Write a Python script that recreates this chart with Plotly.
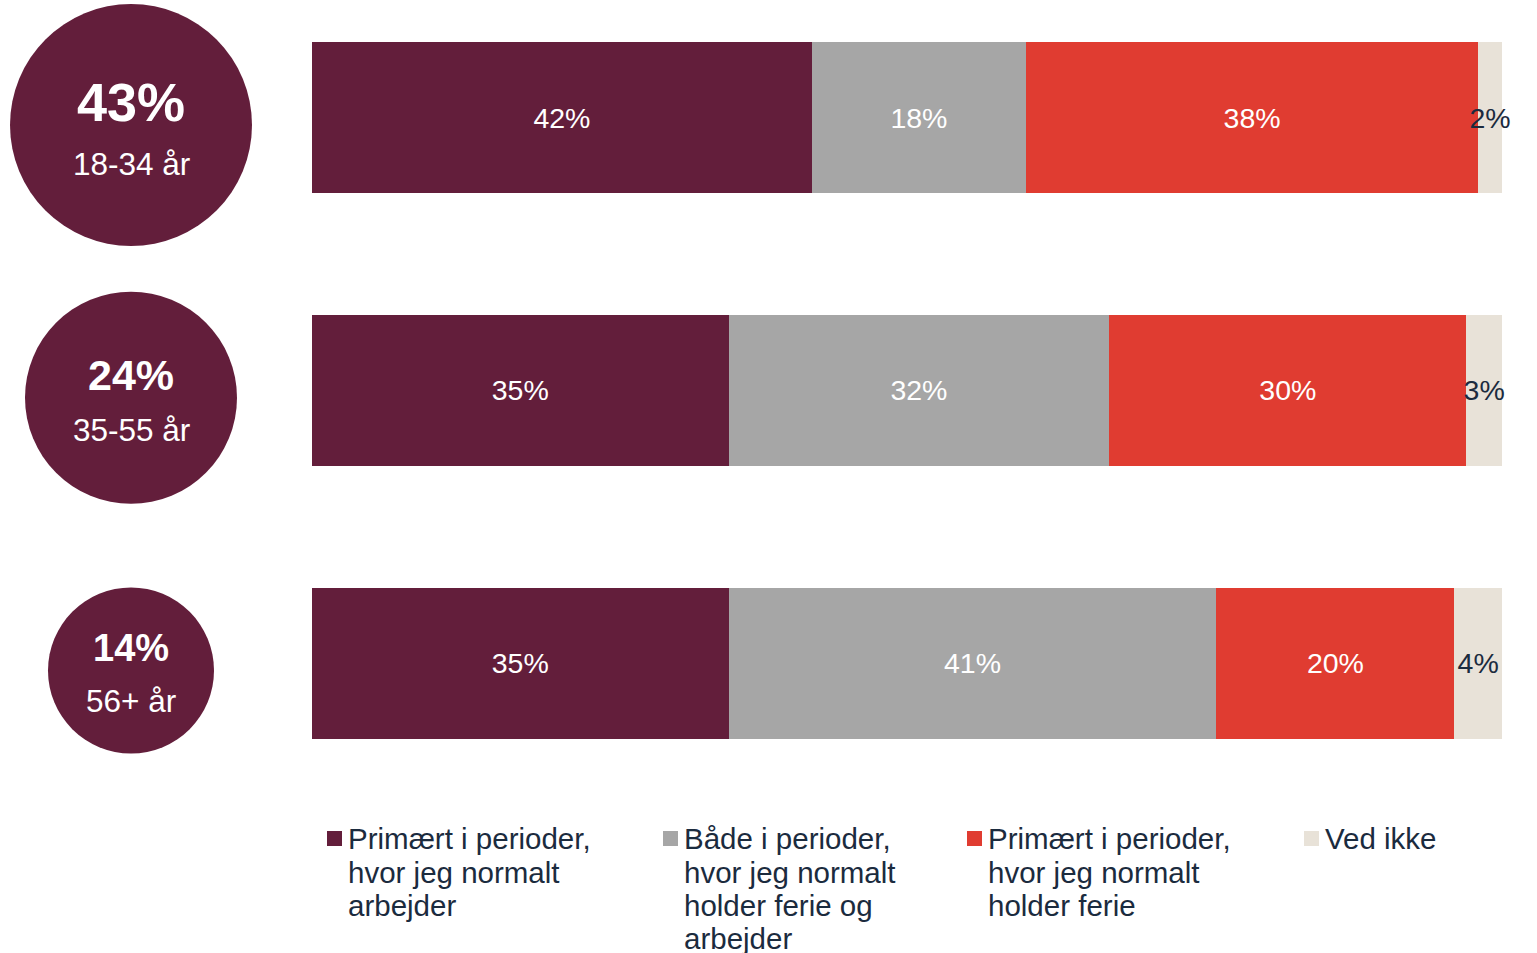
import plotly.graph_objects as go

# ---------------- data ----------------
categories = ["18-34 år", "35-55 år", "56+ år"]
group_share = [43, 24, 14]

series_names = [
    "Primært i perioder, hvor jeg normalt arbejder",
    "Både i perioder, hvor jeg normalt holder ferie og arbejder",
    "Primært i perioder, hvor jeg normalt holder ferie",
    "Ved ikke",
]
primaert_arbejder = [42, 35, 35]
baade = [18, 32, 41]
primaert_ferie = [38, 30, 20]
ved_ikke = [2, 3, 4]
series_values = [primaert_arbejder, baade, primaert_ferie, ved_ikke]

legend_lines = [
    ["Primært i perioder,", "hvor jeg normalt", "arbejder"],
    ["Både i perioder,", "hvor jeg normalt", "holder ferie og", "arbejder"],
    ["Primært i perioder,", "hvor jeg normalt", "holder ferie"],
    ["Ved ikke"],
]

# ---------------- style ----------------
FONT = "Liberation Sans, Arial, sans-serif"
MAROON = "#631E3B"
colors = [MAROON, "#A6A6A6", "#E03C31", "#E8E2D8"]
DARK = "#1B2B3E"
label_colors = ["#FFFFFF", "#FFFFFF", "#FFFFFF", DARK]

W, H = 1537, 953
ML, MR = 0, 35
PW = W - ML - MR
BAR_LEFT = 312
ROW_PX = 272.75
FIRST_ROW = 117.5
CIRCLE_OFFSET = 7.5
CIRCLE_X = 131
circle_diam = [242, 212, 166]
bold_sizes = [54, 43, 38]
bold_shift = [23, 22.5, 22.5]
sub_shift = [-39, -32.5, -30.5]
sub_size = 31.5

sq_left = [327, 663, 967, 1304]
text_left = [346, 682, 986, 1323]
LINE0 = 838.6
LINE_STEP = 33.4
LEG_SIZE = 29.5


def px_x(p):
    return p / PW


def px_y(p):
    return 1 - p / H


y_top = -FIRST_ROW / ROW_PX
y_bot = y_top + H / ROW_PX
y2_top = y_top - CIRCLE_OFFSET / ROW_PX
y2_bot = y2_top + H / ROW_PX

fig = go.Figure()

for name, vals, col, tcol in zip(series_names, series_values, colors, label_colors):
    fig.add_trace(go.Bar(
        y=categories, x=vals, orientation="h", name=name,
        width=151 / ROW_PX,
        marker=dict(color=col, line=dict(width=0)),
        text=[f"{v}%" for v in vals],
        textposition="inside", insidetextanchor="middle",
        textangle=0,
        constraintext="none", cliponaxis=False,
        textfont=dict(family=FONT, size=28.5, color=tcol),
        insidetextfont=dict(family=FONT, size=28.5, color=tcol),
        hoverinfo="skip", showlegend=False,
        xaxis="x", yaxis="y",
    ))

fig.add_trace(go.Scatter(
    x=[CIRCLE_X] * len(categories), y=categories,
    mode="markers", xaxis="x2", yaxis="y2",
    marker=dict(size=circle_diam, color=MAROON, opacity=1, line=dict(width=0)),
    hoverinfo="skip", showlegend=False, cliponaxis=False,
))

annotations = []
for i, cat in enumerate(categories):
    annotations.append(dict(
        x=CIRCLE_X, y=cat, xref="x2", yref="y2", showarrow=False,
        text=f"<b>{group_share[i]}%</b>", xanchor="center", yanchor="middle",
        yshift=bold_shift[i],
        font=dict(family=FONT, size=bold_sizes[i], color="#FFFFFF"),
    ))
    annotations.append(dict(
        x=CIRCLE_X, y=cat, xref="x2", yref="y2", showarrow=False,
        text=cat, xanchor="center", yanchor="middle",
        yshift=sub_shift[i],
        font=dict(family=FONT, size=sub_size, color="#FFFFFF"),
    ))

shapes = []
for j, lines in enumerate(legend_lines):
    shapes.append(dict(
        type="rect", xref="paper", yref="paper",
        x0=px_x(sq_left[j]), x1=px_x(sq_left[j] + 15),
        y0=px_y(831), y1=px_y(846),
        fillcolor=colors[j], line=dict(width=0),
    ))
    for k, line in enumerate(lines):
        annotations.append(dict(
            x=px_x(text_left[j]), y=px_y(LINE0 + k * LINE_STEP),
            xref="paper", yref="paper", showarrow=False,
            text=line, xanchor="left", yanchor="middle",
            font=dict(family=FONT, size=LEG_SIZE, color=DARK),
        ))

fig.update_layout(
    width=W, height=H,
    margin=dict(l=ML, r=MR, t=0, b=0, pad=0),
    paper_bgcolor="white", plot_bgcolor="white",
    barmode="stack", showlegend=False,
    xaxis=dict(domain=[px_x(BAR_LEFT), 1], range=[0, 100], visible=False, fixedrange=True),
    yaxis=dict(domain=[0, 1], range=[y_bot, y_top], type="category",
               categoryorder="array", categoryarray=categories, visible=False, fixedrange=True),
    xaxis2=dict(domain=[0, px_x(BAR_LEFT)], range=[0, BAR_LEFT], visible=False,
                anchor="y2", fixedrange=True),
    yaxis2=dict(domain=[0, 1], range=[y2_bot, y2_top], type="category",
                categoryorder="array", categoryarray=categories, visible=False,
                anchor="x2", fixedrange=True),
    annotations=annotations, shapes=shapes,
    font=dict(family=FONT),
)

fig.write_html("out.html", config={"displayModeBar": False})
